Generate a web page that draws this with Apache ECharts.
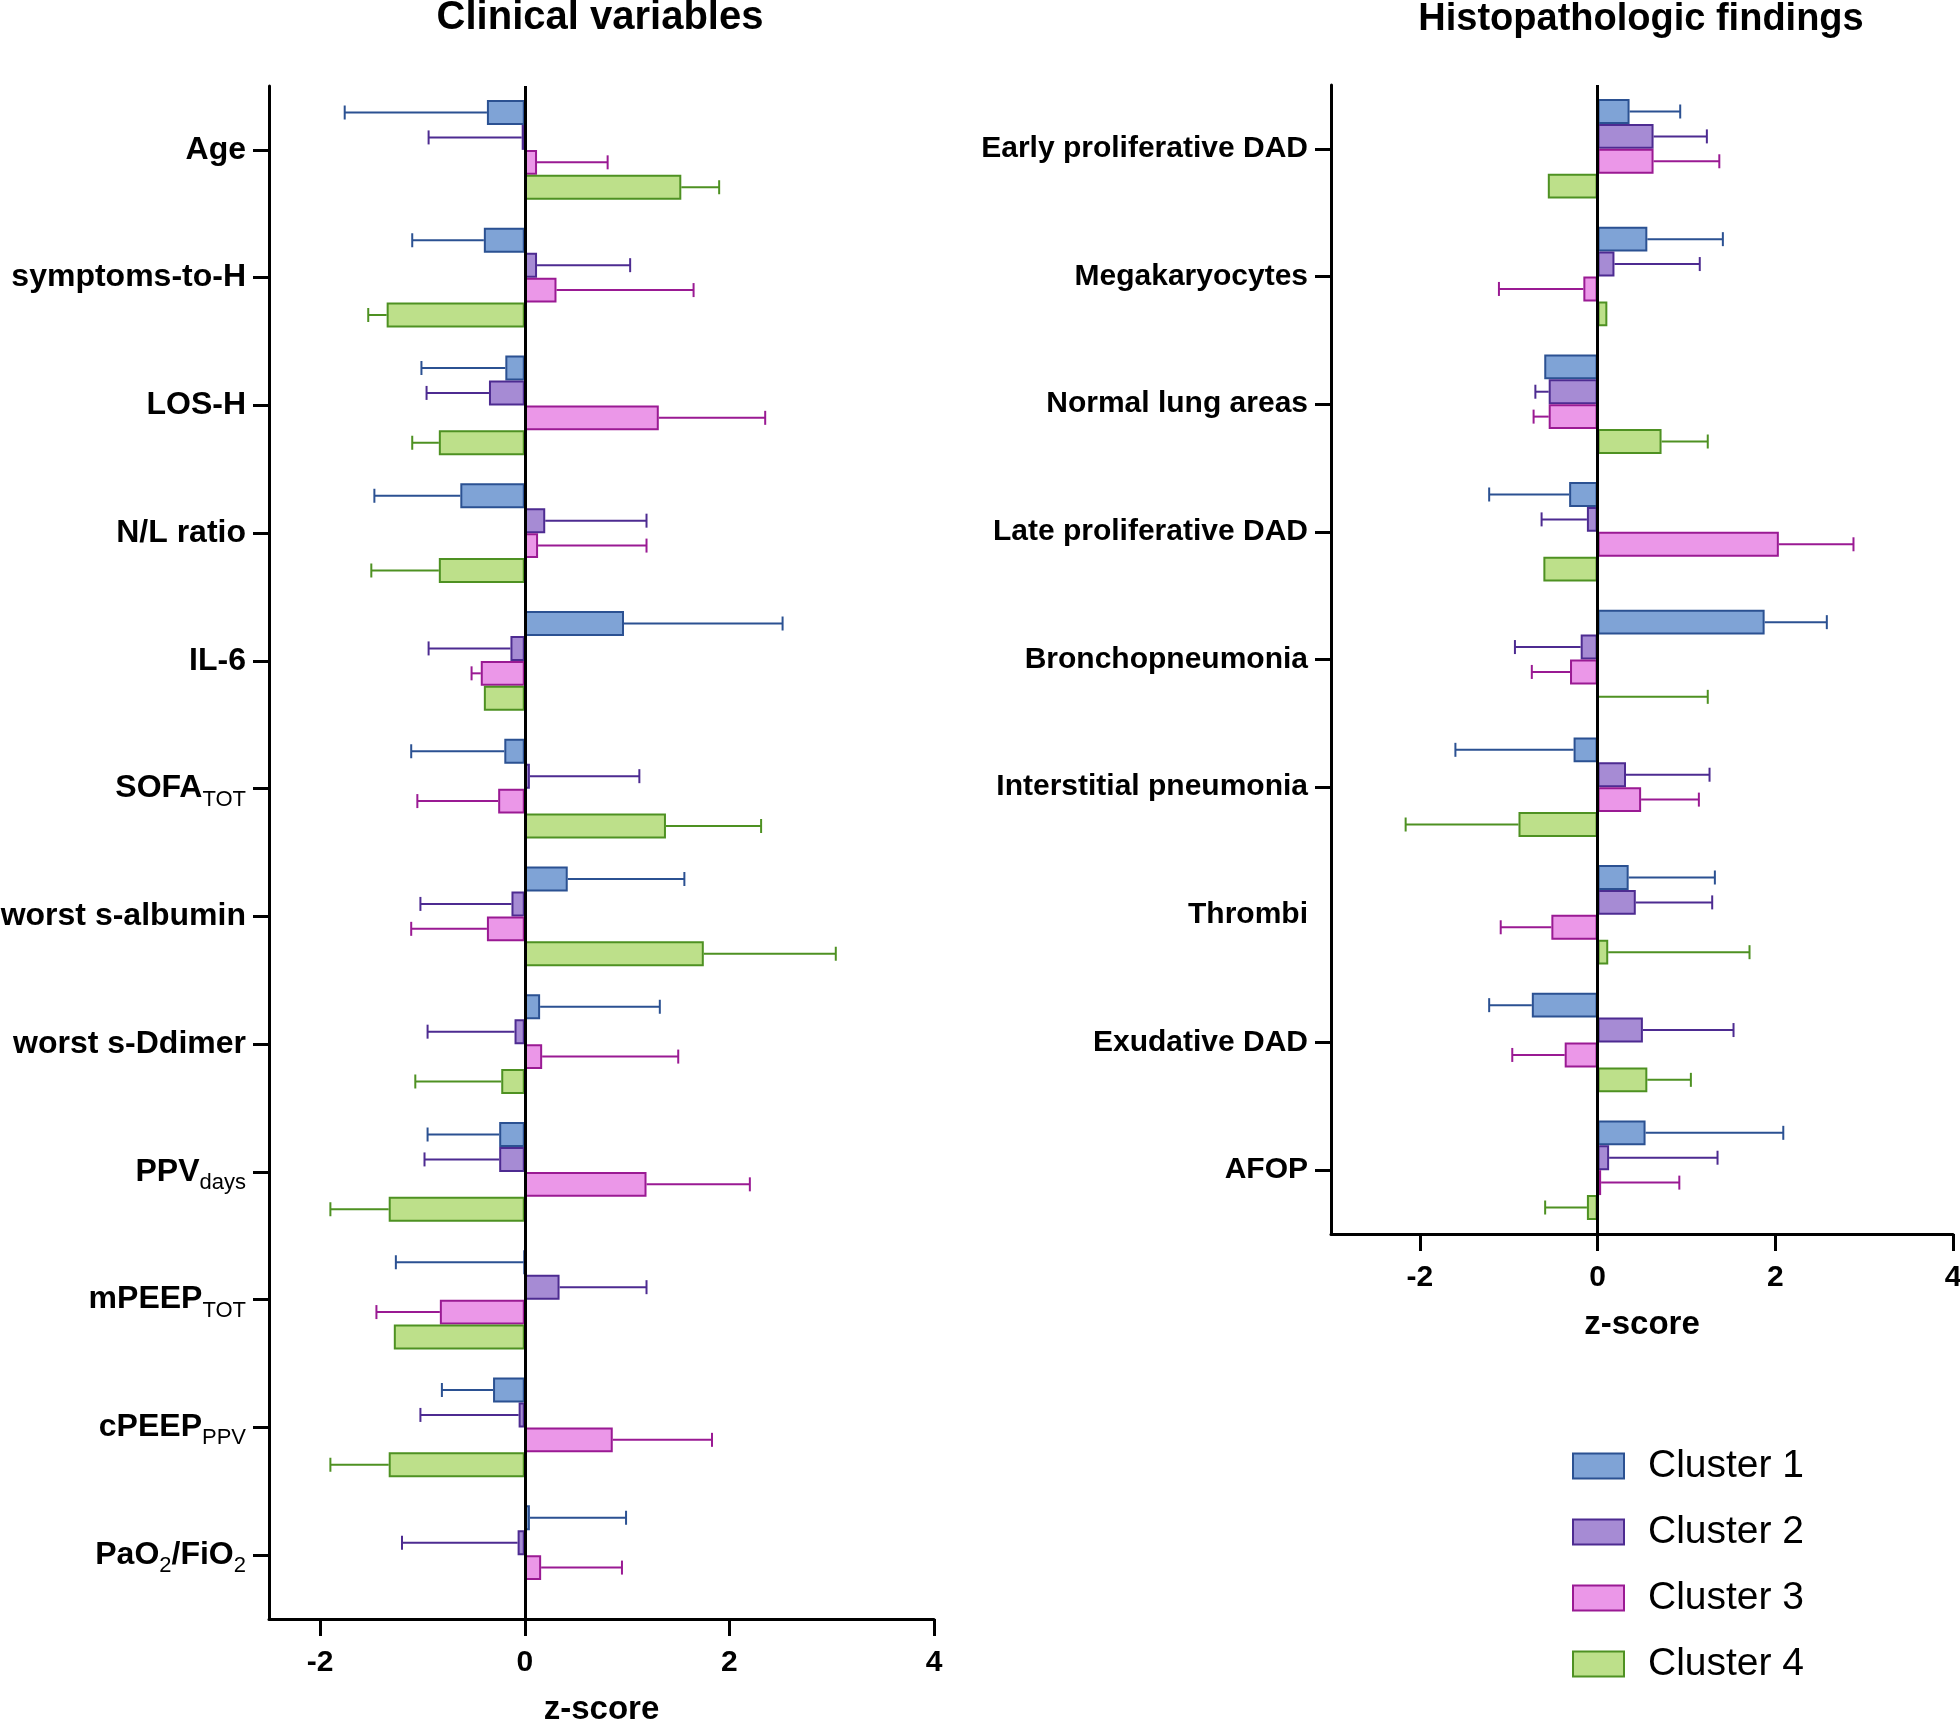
<!DOCTYPE html>
<html>
<head>
<meta charset="utf-8">
<title>Clinical variables / Histopathologic findings</title>
<script src="https://cdn.jsdelivr.net/npm/echarts@6/dist/echarts.min.js"></script>
<style>
  html, body { margin: 0; padding: 0; background: #fff; }
  #main { width: 1960px; height: 1724px; }
</style>
</head>
<body>
<div id="main"></div>
<script>
// categories (top to bottom), "_x" marks a subscript
var clinicalCats = ['Age', 'symptoms-to-H', 'LOS-H', 'N/L ratio', 'IL-6', 'SOFA_TOT', 'worst s-albumin',
    'worst s-Ddimer', 'PPV_days', 'mPEEP_TOT', 'cPEEP_PPV', 'PaO_2/FiO_2'];
var histoCats = ['Early proliferative DAD', 'Megakaryocytes', 'Normal lung areas', 'Late proliferative DAD',
    'Bronchopneumonia', 'Interstitial pneumonia', 'Thrombi', 'Exudative DAD', 'AFOP'];

var clusters = ['Cluster 1', 'Cluster 2', 'Cluster 3', 'Cluster 4'];
var fills = ['#7fa3d6', '#a68bd4', '#eb97e8', '#bde08a'];
var borders = ['#2b5192', '#4d2b91', '#9a1a93', '#4e9122'];

var xTicks = [-2, 0, 2, 4];

// mean z-score per cluster, clinical variables
var clinC1 = [-0.37, -0.40, -0.19, -0.63, 0.97, -0.20, 0.42, 0.15, -0.25, -0.01, -0.31, 0.05];
var clinC2 = [-0.03, 0.12, -0.35, 0.20, -0.14, 0.05, -0.13, -0.10, -0.25, 0.34, -0.06, -0.07];
var clinC3 = [0.12, 0.31, 1.31, 0.13, -0.43, -0.26, -0.37, 0.17, 1.19, -0.83, 0.86, 0.16];
var clinC4 = [1.53, -1.35, -0.84, -0.84, -0.40, 1.38, 1.75, -0.23, -1.33, -1.28, -1.33, null];
// end of the error whisker
var clinE1 = [-1.76, -1.10, -1.01, -1.47, 2.52, -1.11, 1.56, 1.32, -0.95, -1.26, -0.81, 0.99];
var clinE2 = [-0.94, 1.03, -0.96, 1.19, -0.94, 1.12, -1.02, -0.95, -0.98, 1.19, -1.02, -1.20];
var clinE3 = [0.81, 1.65, 2.35, 1.19, -0.52, -1.05, -1.11, 1.50, 2.20, -1.45, 1.83, 0.95];
var clinE4 = [1.90, -1.53, -1.10, -1.50, null, 2.31, 3.04, -1.07, -1.90, null, -1.90, null];

// histopathologic findings
var histC1 = [0.36, 0.56, -0.60, -0.32, 1.88, -0.27, 0.35, -0.74, 0.54];
var histC2 = [0.63, 0.19, -0.55, -0.12, -0.19, 0.32, 0.43, 0.51, 0.13];
var histC3 = [0.63, -0.16, -0.55, 2.04, -0.31, 0.49, -0.52, -0.37, 0.04];
var histC4 = [-0.56, 0.11, 0.72, -0.61, 0.00, -0.89, 0.12, 0.56, -0.12];
var histE1 = [0.93, 1.41, null, -1.22, 2.58, -1.60, 1.32, -1.22, 2.09];
var histE2 = [1.23, 1.15, -0.70, -0.63, -0.93, 1.26, 1.29, 1.53, 1.35];
var histE3 = [1.37, -1.11, -0.72, 2.88, -0.74, 1.14, -1.09, -0.96, 0.92];
var histE4 = [null, null, 1.24, null, 1.24, -2.16, 1.71, 1.05, -0.59];

var FONT = "'Liberation Sans', Arial, sans-serif";
var CAT_GAP = 0.22;

function catLabel(v) {
    return v.replace(/_([A-Za-z0-9]+)/g, '{sub|$1}');
}

// error whiskers, one item = [cat, value, end, cluster]
function errData(means, ends) {
    var out = [];
    for (var k = 0; k < means.length; k++) {
        for (var i = 0; i < means[k].length; i++) {
            if (means[k][i] == null || ends[k][i] == null) continue;
            out.push([i, means[k][i], ends[k][i], k]);
        }
    }
    return out;
}

function renderErr(params, api) {
    var cat = api.value(0), v = api.value(1), e = api.value(2), k = api.value(3);
    var band = api.size([0, 1])[1];
    var bw = band * (1 - CAT_GAP) / 4;
    var y = api.coord([0, cat])[1] + (k - 1.5) * bw;
    var x0 = api.coord([v, cat])[0];
    var x1 = api.coord([e, cat])[0];
    var st = { stroke: borders[k], lineWidth: 2 };
    return {
        type: 'group',
        children: [
            { type: 'line', shape: { x1: x0, y1: y, x2: x1, y2: y }, style: st },
            { type: 'line', shape: { x1: x1, y1: y - 7, x2: x1, y2: y + 7 }, style: st }
        ]
    };
}

function barSeries(gi, means) {
    return means.map(function (d, k) {
        var s = {
            name: clusters[k],
            type: 'bar',
            xAxisIndex: gi,
            yAxisIndex: gi,
            data: d.map(function (v) { return v == null ? '-' : v; }),
            barGap: 0,
            barCategoryGap: (CAT_GAP * 100) + '%',
            itemStyle: { color: fills[k], borderColor: borders[k], borderWidth: 2 },
            z: 3
        };
        if (k === 0) {
            // the black line at z = 0
            s.markLine = {
                silent: true,
                symbol: 'none',
                label: { show: false },
                lineStyle: { color: '#000', width: 3, type: 'solid' },
                data: [{ xAxis: 0 }],
                z: 5
            };
        }
        return s;
    });
}

function xAxisCfg(gi, min) {
    return {
        type: 'value',
        gridIndex: gi,
        min: min,
        max: 4,
        name: 'z-score',
        nameLocation: 'middle',
        nameGap: 74,
        nameTextStyle: { fontSize: 33, fontWeight: 'bold', color: '#000', fontFamily: FONT },
        splitLine: { show: false },
        axisLine: { show: true, lineStyle: { color: '#000', width: 3 } },
        axisTick: { show: true, length: 17, lineStyle: { color: '#000', width: 3 }, customValues: xTicks },
        axisLabel: { fontSize: 30, fontWeight: 'bold', color: '#000', margin: 29, fontFamily: FONT, customValues: xTicks }
    };
}

function yAxisCfg(gi, cats, fs) {
    return {
        type: 'category',
        gridIndex: gi,
        data: cats,
        inverse: true,
        axisLine: { show: true, onZero: false, lineStyle: { color: '#000', width: 3 } },
        axisTick: {
            show: true, alignWithLabel: true, length: 16, lineStyle: { color: '#000', width: 3 },
            interval: function (i, v) { return v !== 'Thrombi'; }
        },
        axisLabel: {
            fontSize: fs, fontWeight: 'bold', color: '#000', margin: 23, fontFamily: FONT,
            formatter: catLabel,
            rich: {
                sub: { fontSize: 22, fontWeight: 'normal', color: '#000', fontFamily: FONT, padding: [22, 0, 0, 0] }
            }
        }
    };
}

var chart = echarts.init(document.getElementById('main'));

var option = {
    backgroundColor: '#fff',
    animation: false,
    textStyle: { fontFamily: FONT },
    title: [
        { text: 'Clinical variables', left: 600, top: -2, textAlign: 'center', padding: 0,
          textStyle: { fontSize: 40, fontWeight: 'bold', color: '#000', fontFamily: FONT } },
        { text: 'Histopathologic findings', left: 1641, top: 1, textAlign: 'center', padding: 0,
          textStyle: { fontSize: 38, fontWeight: 'bold', color: '#000', fontFamily: FONT } }
    ],
    legend: {
        orient: 'vertical',
        left: 1567,
        top: 1441,
        icon: 'rect',
        itemWidth: 51,
        itemHeight: 25,
        itemGap: 26,
        selectedMode: false,
        textStyle: { fontSize: 39, color: '#000', lineHeight: 40, fontFamily: FONT, padding: [0, 0, 0, 19] },
        data: clusters.map(function (c, k) {
            return { name: c, itemStyle: { color: fills[k], borderColor: borders[k], borderWidth: 2 } };
        })
    },
    grid: [
        { left: 269, top: 86, width: 665, height: 1533, containLabel: false, outerBoundsMode: 'none' },
        { left: 1331, top: 85, width: 622, height: 1149, containLabel: false, outerBoundsMode: 'none' }
    ],
    xAxis: [xAxisCfg(0, -2.5), xAxisCfg(1, -3)],
    yAxis: [yAxisCfg(0, clinicalCats, 32), yAxisCfg(1, histoCats, 30)],
    series: []
};

var clinMeans = [clinC1, clinC2, clinC3, clinC4];
var histMeans = [histC1, histC2, histC3, histC4];

option.series = option.series.concat(
    [{
        type: 'custom', xAxisIndex: 0, yAxisIndex: 0, renderItem: renderErr, z: 2,
        encode: { x: [1, 2], y: 0 }, data: errData(clinMeans, [clinE1, clinE2, clinE3, clinE4])
    }],
    barSeries(0, clinMeans),
    [{
        type: 'custom', xAxisIndex: 1, yAxisIndex: 1, renderItem: renderErr, z: 2,
        encode: { x: [1, 2], y: 0 }, data: errData(histMeans, [histE1, histE2, histE3, histE4])
    }],
    barSeries(1, histMeans)
);

chart.setOption(option);
</script>
</body>
</html>
